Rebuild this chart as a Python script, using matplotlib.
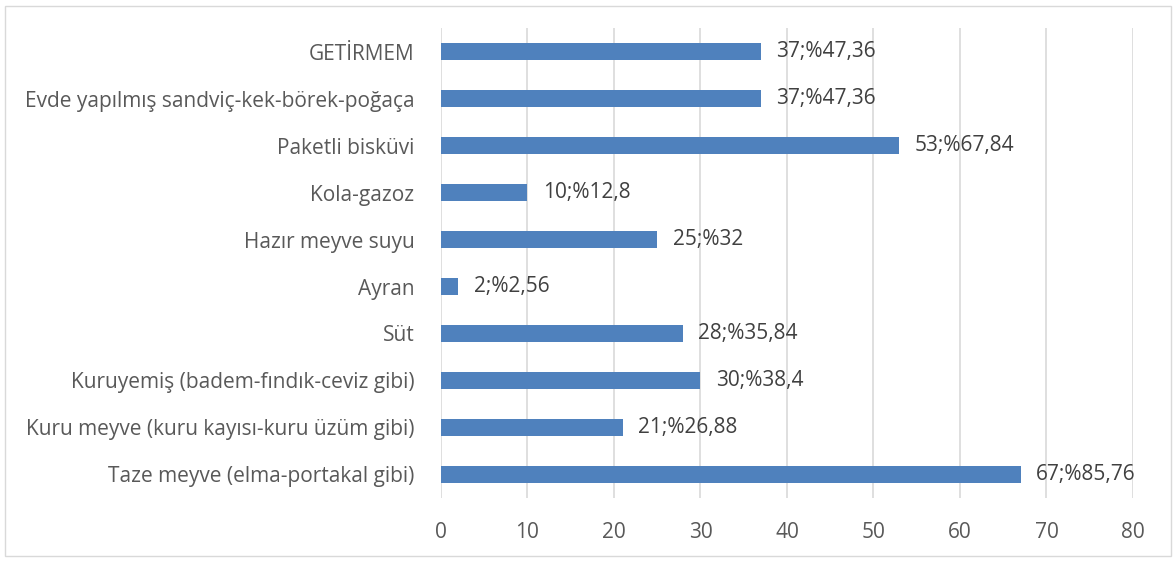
import matplotlib.pyplot as plt
from matplotlib.patches import Rectangle

plt.rcParams['font.family'] = ['Open Sans', 'DejaVu Sans']

categories = ["Taze meyve (elma-portakal gibi)",
              "Kuru meyve (kuru kayısı-kuru üzüm gibi)",
              "Kuruyemiş (badem-fındık-ceviz gibi)",
              "Süt",
              "Ayran",
              "Hazır meyve suyu",
              "Kola-gazoz",
              "Paketli bisküvi",
              "Evde yapılmış sandviç-kek-börek-poğaça",
              "GETİRMEM"]
counts = [67, 21, 30, 28, 2, 25, 10, 53, 37, 37]
labels = ["67;%85,76", "21;%26,88", "30;%38,4", "28;%35,84", "2;%2,56",
          "25;%32", "10;%12,8", "53;%67,84", "37;%47,36", "37;%47,36"]

fig = plt.figure(figsize=(11.76, 5.62), dpi=100)
ax = fig.add_axes([0.375, 0.114, 0.5884, 0.836])

y = range(len(categories))
ax.barh(y, counts, height=0.37, color="#4F81BD", zorder=3)

for i in y:
    ax.annotate(labels[i], (counts[i], i), xytext=(11, 0), textcoords="offset points",
                va="center", ha="left", fontsize=15, color="#404040", zorder=4)

ax.set_xlim(0, 80)
ax.set_ylim(-0.5, len(categories) - 0.5)
ax.set_xticks(range(0, 81, 10))
ax.set_yticks(list(y))
ax.set_yticklabels(categories)
ax.xaxis.grid(True, color="#D9D9D9", linewidth=1.2, zorder=0)
ax.tick_params(axis="both", length=0, labelsize=15, colors="#595959")
ax.tick_params(axis="x", pad=17)
ax.tick_params(axis="y", pad=19)
for s in ax.spines.values():
    s.set_visible(False)

fig.patches.append(Rectangle((0.004, 0.01), 0.992, 0.98, transform=fig.transFigure,
                             fill=False, edgecolor="#D9D9D9", linewidth=1))

fig.savefig("out.png", dpi=100)
